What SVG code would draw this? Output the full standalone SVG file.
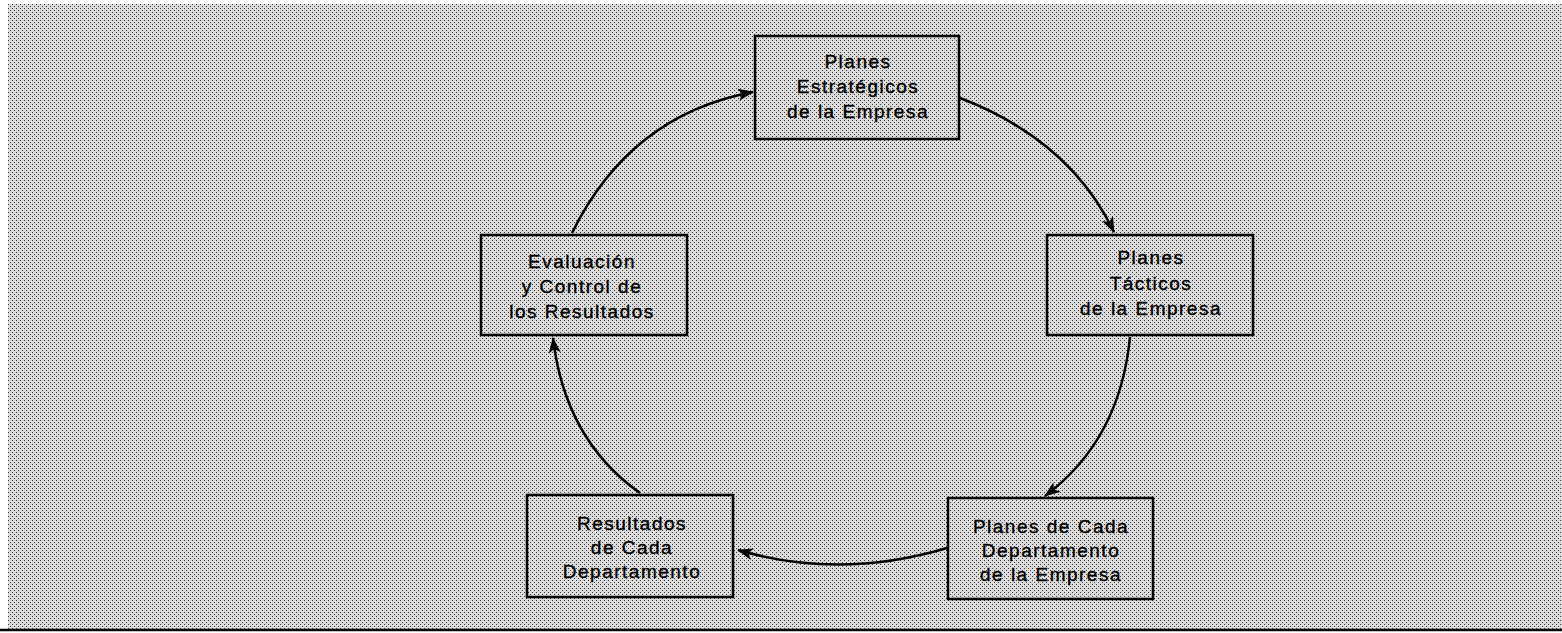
<svg xmlns="http://www.w3.org/2000/svg" width="1562" height="633" viewBox="0 0 1562 633">
<defs>
<pattern id="dots" width="4" height="4" patternUnits="userSpaceOnUse">
<rect width="4" height="4" fill="#dadada"/>
<rect x="0" y="0" width="1" height="1" fill="#3c3c3c"/>
<rect x="2" y="2" width="1" height="1" fill="#4a4a4a"/>
</pattern>
<marker id="ah" viewBox="0 0 16 12" refX="15" refY="6" markerWidth="16" markerHeight="12" markerUnits="userSpaceOnUse" orient="auto">
<path d="M0,0 L16,6 L0,12 L4,6 z" fill="#000"/>
</marker>
<style>
.box{fill:none;stroke:#000;stroke-width:2.5}
.lbl{font-family:"Liberation Sans",Arial,sans-serif;font-size:19px;letter-spacing:1.5px;fill:#000;stroke:#000;stroke-width:0.35;text-anchor:middle}
.con{fill:none;stroke:#000;stroke-width:2.5;marker-end:url(#ah)}
</style>
</defs>
<rect width="1562" height="633" fill="#fff"/>
<rect x="8" y="4" width="1554" height="625" fill="url(#dots)"/>
<line x1="0" y1="630" x2="1562" y2="630" stroke="#000" stroke-width="2.5"/>

<g id="connectors">
<path class="con" d="M960 98 Q1070 140 1114 232"/>
<path class="con" d="M1130 337 Q1120 440 1045 496"/>
<path class="con" d="M947 548 Q840 580 738 550"/>
<path class="con" d="M640 493 Q565 440 553 338"/>
<path class="con" d="M572 233 Q630 115 753 92"/>
</g>

<g id="n-estrategicos">
<rect class="box" x="755" y="36" width="204" height="103"/>
<text class="lbl" x="858" y="68">Planes</text>
<text class="lbl" x="858" y="93">Estratégicos</text>
<text class="lbl" x="858" y="118">de la Empresa</text>
</g>

<g id="n-tacticos">
<rect class="box" x="1047" y="235" width="206" height="100"/>
<text class="lbl" x="1151" y="264">Planes</text>
<text class="lbl" x="1151" y="290">Tácticos</text>
<text class="lbl" x="1151" y="315">de la Empresa</text>
</g>

<g id="n-departamento">
<rect class="box" x="948" y="498" width="205" height="101"/>
<text class="lbl" x="1051" y="533">Planes de Cada</text>
<text class="lbl" x="1051" y="557">Departamento</text>
<text class="lbl" x="1051" y="581">de la Empresa</text>
</g>

<g id="n-resultados">
<rect class="box" x="527" y="495" width="206" height="102"/>
<text class="lbl" x="632" y="530">Resultados</text>
<text class="lbl" x="632" y="554">de Cada</text>
<text class="lbl" x="632" y="578">Departamento</text>
</g>

<g id="n-evaluacion">
<rect class="box" x="481" y="235" width="206" height="100"/>
<text class="lbl" x="582" y="268">Evaluación</text>
<text class="lbl" x="582" y="293">y Control de</text>
<text class="lbl" x="582" y="318">los Resultados</text>
</g>
</svg>
